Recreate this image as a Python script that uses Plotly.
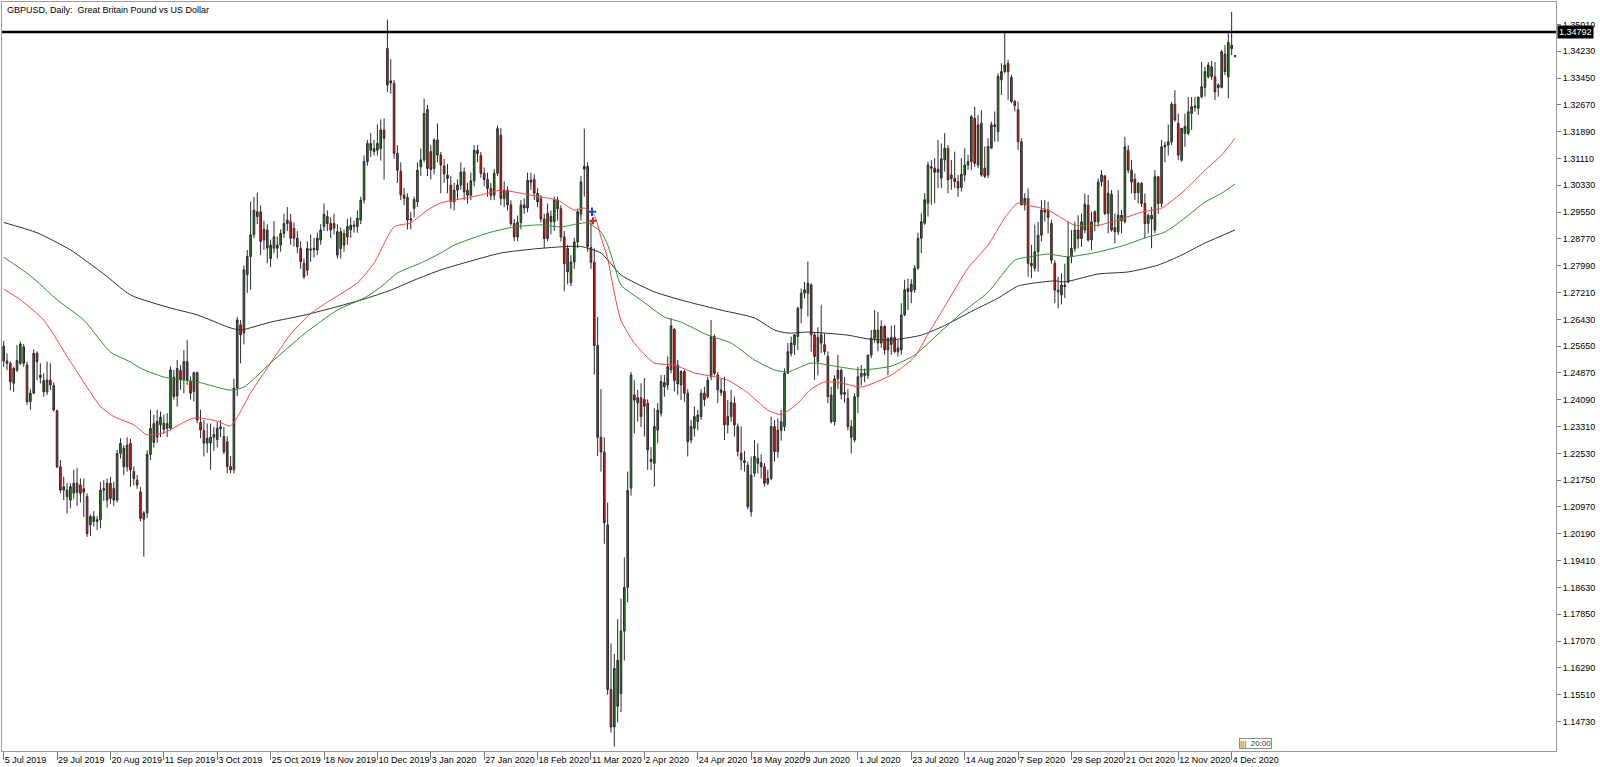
import plotly.graph_objects as go

# ---------------- data (GBPUSD daily, 5 Jul 2019 .. 7 Dec 2020) ----------------
opens = [
1.2565,1.2522,1.2515,1.2457,1.2495,1.2515,1.2563,1.2510,1.2403,1.2428,
1.2544,1.2481,1.2465,1.2432,1.2466,1.2450,1.2377,1.2214,1.2146,1.2146,
1.2117,1.2137,1.2166,1.2161,1.2140,1.2127,1.2045,1.2069,1.2055,1.2060,
1.2146,1.2117,1.2166,1.2151,1.2117,1.2253,1.2268,1.2214,1.2282,1.2200,
1.2175,1.2141,1.2061,1.2080,1.2250,1.2340,1.2300,1.2336,1.2341,1.2326,
1.2326,1.2475,1.2420,1.2494,1.2467,1.2520,1.2462,1.2433,1.2488,1.2343,
1.2319,1.2283,1.2283,1.2300,1.2293,1.2330,1.2302,1.2287,1.2215,1.2205,
1.2443,1.2627,1.2603,1.2773,1.2826,1.2889,1.2942,1.2956,1.2905,1.2903,
1.2820,1.2850,1.2859,1.2859,1.2893,1.2922,1.2927,1.2908,1.2879,1.2849,
1.2806,1.2786,1.2848,1.2845,1.2845,1.2874,1.2913,1.2942,1.2922,1.2908,
1.2898,1.2849,1.2893,1.2883,1.2903,1.2913,1.2913,1.2932,1.2990,1.3102,
1.3135,1.3140,1.3135,1.3140,1.3194,1.3431,1.3337,1.3330,1.3126,1.3074,
1.3005,1.2998,1.2932,1.2966,1.2985,1.3087,1.3107,1.3254,1.3131,1.3082,
1.3165,1.3121,1.3089,1.3063,1.3034,1.2985,1.3019,1.3034,1.3072,1.3019,
1.3004,1.3046,1.3135,1.3120,1.3068,1.3050,1.3024,1.3004,1.3068,1.3179,
1.2995,1.3019,1.2976,1.2922,1.2883,1.2925,1.2976,1.2967,1.3048,1.3050,
1.3010,1.2995,1.2935,1.2878,1.2943,1.2927,1.2990,1.2965,1.2883,1.2849,
1.2750,1.2810,1.2868,1.2949,1.3080,1.3088,1.2852,1.2809,1.2567,1.2300,
1.2257,1.2045,1.1566,1.1457,1.1651,1.1554,1.1736,1.1863,1.2152,1.2423,
1.2400,1.2415,1.2410,1.2399,1.2236,1.2224,1.2321,1.2370,1.2447,1.2452,
1.2496,1.2614,1.2510,1.2452,1.2491,1.2428,1.2292,1.2326,1.2345,1.2360,
1.2428,1.2418,1.2476,1.2593,1.2481,1.2438,1.2433,1.2336,1.2360,1.2399,
1.2331,1.2253,1.2232,1.2219,1.2083,1.2195,1.2224,1.2226,1.2214,1.2166,
1.2180,1.2331,1.2258,1.2320,1.2331,1.2486,1.2544,1.2569,1.2593,1.2675,
1.2719,1.2719,1.2743,1.2598,1.2520,1.2598,1.2569,1.2535,1.2423,1.2345,
1.2470,1.2495,1.2425,1.2413,1.2331,1.2292,1.2418,1.2476,1.2486,1.2480,
1.2539,1.2588,1.2612,1.2574,1.2622,1.2554,1.2570,1.2590,1.2560,1.2554,
1.2656,1.2733,1.2724,1.2729,1.2792,1.2879,1.2923,1.2981,1.3087,1.3083,
1.3071,1.3054,1.3107,1.3141,1.3063,1.3053,1.3044,1.3027,1.3063,1.3092,
1.3102,1.3228,1.3092,1.3214,1.3083,1.3063,1.3141,1.3209,1.3189,1.3340,
1.3364,1.3388,1.3347,1.3277,1.3253,1.3160,1.2976,1.2995,1.2806,1.2792,
1.2840,1.2888,1.2961,1.2960,1.2922,1.2806,1.2728,1.2714,1.2743,1.2752,
1.2825,1.2849,1.2903,1.2878,1.2903,1.2975,1.2874,1.2956,1.2927,1.3043,
1.3060,1.2951,1.3007,1.2910,1.2898,1.2930,1.2927,1.3135,1.3077,1.3051,
1.3011,1.3039,1.2980,1.2922,1.2946,1.2903,1.3058,1.2980,1.3145,1.3150,
1.3160,1.3269,1.3213,1.3106,1.3184,1.3184,1.3242,1.3264,1.3257,1.3291,
1.3318,1.3349,1.3378,1.3349,1.3325,1.3318,1.3415,1.3349,1.3441,1.3410]

highs = [
1.2580,1.2544,1.2520,1.2505,1.2568,1.2578,1.2572,1.2520,1.2440,1.2556,
1.2550,1.2515,1.2486,1.2520,1.2515,1.2460,1.2380,1.2234,1.2185,1.2166,
1.2166,1.2205,1.2210,1.2180,1.2180,1.2137,1.2075,1.2085,1.2070,1.2170,
1.2175,1.2180,1.2185,1.2170,1.2263,1.2297,1.2277,1.2300,1.2295,1.2215,
1.2190,1.2155,1.2085,1.2262,1.2380,1.2365,1.2380,1.2375,1.2365,1.2370,
1.2506,1.2496,1.2525,1.2510,1.2554,1.2582,1.2477,1.2491,1.2491,1.2380,
1.2350,1.2340,1.2340,1.2330,1.2345,1.2350,1.2330,1.2302,1.2245,1.2470,
1.2650,1.2641,1.2800,1.2845,1.2986,1.3000,1.3012,1.2975,1.2930,1.2920,
1.2875,1.2930,1.2885,1.2905,1.2950,1.2970,1.2950,1.2925,1.2900,1.2870,
1.2820,1.2870,1.2890,1.2880,1.2895,1.2920,1.2980,1.2960,1.2940,1.2950,
1.2920,1.2910,1.2905,1.2935,1.2940,1.2930,1.2960,1.3000,1.3120,1.3165,
1.3185,1.3165,1.3210,1.3225,1.3228,1.3515,1.3400,1.3340,1.3150,1.3100,
1.3025,1.3010,1.2955,1.3000,1.3100,1.3140,1.3285,1.3267,1.3150,1.3170,
1.3213,1.3130,1.3110,1.3095,1.3060,1.3040,1.3050,1.3100,1.3085,1.3040,
1.3070,1.3150,1.3150,1.3130,1.3085,1.3070,1.3040,1.3080,1.3207,1.3200,
1.3045,1.3030,1.2990,1.2935,1.2945,1.2990,1.2995,1.3070,1.3070,1.3065,
1.3025,1.3005,1.2950,1.2980,1.2960,1.3000,1.3000,1.2975,1.2900,1.2860,
1.2830,1.2880,1.2965,1.3060,1.3198,1.3100,1.2930,1.2850,1.2650,1.2440,
1.2300,1.2110,1.1700,1.1670,1.1770,1.1830,1.1950,1.2200,1.2490,1.2466,
1.2438,1.2457,1.2472,1.2410,1.2272,1.2384,1.2399,1.2481,1.2481,1.2535,
1.2646,1.2617,1.2525,1.2495,1.2496,1.2440,1.2350,1.2389,1.2380,1.2440,
1.2447,1.2476,1.2641,1.2600,1.2490,1.2470,1.2476,1.2408,1.2438,1.2418,
1.2340,1.2331,1.2260,1.2229,1.2244,1.2292,1.2282,1.2250,1.2225,1.2205,
1.2360,1.2350,1.2355,1.2380,1.2500,1.2574,1.2593,1.2600,1.2680,1.2733,
1.2752,1.2811,1.2748,1.2605,1.2620,1.2685,1.2602,1.2550,1.2447,1.2480,
1.2540,1.2500,1.2475,1.2440,1.2350,1.2428,1.2505,1.2510,1.2500,1.2540,
1.2612,1.2670,1.2665,1.2640,1.2627,1.2590,1.2625,1.2627,1.2583,1.2690,
1.2758,1.2762,1.2760,1.2801,1.2895,1.2952,1.3010,1.3102,1.3107,1.3112,
1.3165,1.3155,1.3185,1.3150,1.3107,1.3131,1.3063,1.3112,1.3141,1.3122,
1.3238,1.3262,1.3238,1.3252,1.3146,1.3170,1.3218,1.3248,1.3359,1.3388,
1.3482,1.3398,1.3355,1.3282,1.3277,1.3170,1.3010,1.3024,1.2860,1.2918,
1.2927,1.2990,1.2990,1.2985,1.2933,1.2815,1.2767,1.2777,1.2805,1.2927,
1.2903,1.2927,1.2946,1.2951,1.3009,1.3005,1.2956,1.2960,1.3053,1.3077,
1.3063,1.3048,1.3019,1.2951,1.3019,1.2961,1.3174,1.3150,1.3106,1.3068,
1.3043,1.3043,1.3009,1.2951,1.2970,1.3077,1.3060,1.3165,1.3160,1.3210,
1.3276,1.3310,1.3242,1.3199,1.3242,1.3290,1.3290,1.3290,1.3290,1.3392,
1.3378,1.3392,1.3395,1.3392,1.3330,1.3427,1.3441,1.3475,1.3538,1.3412]

lows = [
1.2505,1.2495,1.2437,1.2432,1.2490,1.2510,1.2505,1.2394,1.2380,1.2425,
1.2466,1.2457,1.2418,1.2423,1.2437,1.2375,1.2210,1.2137,1.2117,1.2078,
1.2093,1.2120,1.2100,1.2110,1.2068,1.2010,1.2012,1.2040,1.2030,1.2035,
1.2115,1.2095,1.2105,1.2100,1.2110,1.2238,1.2190,1.2200,1.2156,1.2160,
1.2150,1.2055,1.1952,1.2065,1.2234,1.2270,1.2283,1.2300,1.2310,1.2300,
1.2320,1.2409,1.2389,1.2438,1.2428,1.2452,1.2409,1.2404,1.2341,1.2297,
1.2244,1.2254,1.2205,1.2260,1.2270,1.2300,1.2250,1.2195,1.2195,1.2195,
1.2420,1.2515,1.2570,1.2720,1.2729,1.2879,1.2920,1.2830,1.2845,1.2806,
1.2795,1.2835,1.2820,1.2840,1.2880,1.2900,1.2860,1.2855,1.2835,1.2790,
1.2760,1.2770,1.2810,1.2823,1.2830,1.2860,1.2900,1.2900,1.2880,1.2890,
1.2820,1.2820,1.2840,1.2860,1.2880,1.2895,1.2895,1.2920,1.2980,1.3090,
1.3115,1.3120,1.3120,1.3105,1.3050,1.3305,1.3300,1.3110,1.3040,1.2990,
1.2975,1.2905,1.2905,1.2940,1.2970,1.3060,1.3100,1.3060,1.3050,1.3065,
1.3100,1.3010,1.3040,1.3010,1.2965,1.2960,1.2990,1.3020,1.2990,1.2980,
1.2990,1.3030,1.3100,1.3055,1.3030,1.3000,1.2990,1.2990,1.3060,1.2975,
1.2970,1.2960,1.2915,1.2870,1.2870,1.2905,1.2950,1.2955,1.3020,1.2990,
1.2970,1.2925,1.2850,1.2870,1.2890,1.2900,1.2930,1.2870,1.2725,1.2745,
1.2740,1.2790,1.2850,1.2930,1.3000,1.2840,1.2790,1.2482,1.2245,1.2200,
1.1990,1.1550,1.1440,1.1400,1.1470,1.1500,1.1650,1.1820,1.2130,1.2311,
1.2345,1.2330,1.2302,1.2205,1.2205,1.2156,1.2282,1.2360,1.2418,1.2438,
1.2486,1.2433,1.2423,1.2408,1.2403,1.2244,1.2282,1.2302,1.2320,1.2350,
1.2390,1.2413,1.2466,1.2480,1.2399,1.2420,1.2292,1.2311,1.2345,1.2302,
1.2244,1.2205,1.2200,1.2090,1.2069,1.2185,1.2195,1.2180,1.2156,1.2161,
1.2175,1.2229,1.2240,1.2290,1.2318,1.2486,1.2535,1.2540,1.2554,1.2632,
1.2704,1.2651,1.2549,1.2467,1.2480,1.2545,1.2540,1.2399,1.2340,1.2333,
1.2440,1.2410,1.2400,1.2320,1.2253,1.2285,1.2370,1.2450,1.2460,1.2470,
1.2530,1.2575,1.2550,1.2560,1.2540,1.2481,1.2540,1.2545,1.2535,1.2540,
1.2652,1.2670,1.2690,1.2720,1.2787,1.2835,1.2918,1.2942,1.2976,1.2981,
1.3025,1.3025,1.3073,1.3010,1.3020,1.3025,1.3000,1.3015,1.3044,1.3078,
1.3078,1.3087,1.3083,1.3058,1.3054,1.3054,1.3141,1.3160,1.3160,1.3296,
1.3359,1.3282,1.3272,1.3248,1.3136,1.2976,1.2960,1.2767,1.2763,1.2782,
1.2782,1.2870,1.2928,1.2893,1.2805,1.2690,1.2675,1.2687,1.2705,1.2748,
1.2806,1.2840,1.2849,1.2854,1.2893,1.2869,1.2845,1.2900,1.2912,1.3029,
1.2946,1.2893,1.2898,1.2864,1.2888,1.2893,1.2922,1.3068,1.3010,1.2990,
1.2980,1.2970,1.2878,1.2893,1.2850,1.2893,1.2950,1.2970,1.3100,1.3120,
1.3150,1.3218,1.3106,1.3102,1.3145,1.3179,1.3194,1.3247,1.3238,1.3286,
1.3291,1.3344,1.3340,1.3281,1.3291,1.3315,1.3354,1.3286,1.3412,1.3405]

closes = [
1.2522,1.2515,1.2462,1.2500,1.2523,1.2571,1.2515,1.2403,1.2428,1.2544,
1.2520,1.2474,1.2432,1.2466,1.2452,1.2379,1.2214,1.2146,1.2156,1.2127,
1.2156,1.2166,1.2140,1.2137,1.2150,1.2020,1.2069,1.2055,1.2060,1.2146,
1.2150,1.2166,1.2122,1.2117,1.2253,1.2282,1.2214,1.2277,1.2205,1.2180,
1.2161,1.2064,1.2080,1.2250,1.2326,1.2285,1.2346,1.2358,1.2323,1.2340,
1.2496,1.2418,1.2500,1.2467,1.2520,1.2467,1.2428,1.2488,1.2350,1.2321,
1.2283,1.2297,1.2300,1.2308,1.2326,1.2325,1.2258,1.2215,1.2205,1.2443,
1.2641,1.2598,1.2787,1.2826,1.2889,1.2961,1.2956,1.2870,1.2874,1.2850,
1.2859,1.2883,1.2850,1.2893,1.2922,1.2932,1.2879,1.2879,1.2854,1.2811,
1.2767,1.2849,1.2845,1.2850,1.2879,1.2903,1.2949,1.2922,1.2903,1.2922,
1.2830,1.2898,1.2859,1.2913,1.2917,1.2917,1.2937,1.2990,1.3102,1.3155,
1.3155,1.3131,1.3155,1.3194,1.3170,1.3325,1.3331,1.3126,1.3077,1.3005,
1.2995,1.2932,1.2935,1.2992,1.3077,1.3107,1.3242,1.3082,1.3079,1.3165,
1.3121,1.3092,1.3066,1.3053,1.2986,1.3019,1.3034,1.3072,1.3014,1.3004,
1.3046,1.3135,1.3125,1.3068,1.3050,1.3024,1.3004,1.3068,1.3198,1.2995,
1.3019,1.2976,1.2922,1.2883,1.2925,1.2976,1.2967,1.3048,1.3042,1.3010,
1.2985,1.2935,1.2878,1.2951,1.2927,1.2990,1.2965,1.2883,1.2805,1.2781,
1.2810,1.2868,1.2956,1.3043,1.3088,1.2855,1.2809,1.2567,1.2300,1.2257,
1.2051,1.1566,1.1457,1.1627,1.1517,1.1736,1.1863,1.2145,1.2481,1.2408,
1.2415,1.2360,1.2390,1.2263,1.2229,1.2331,1.2379,1.2462,1.2459,1.2505,
1.2624,1.2465,1.2455,1.2491,1.2428,1.2287,1.2331,1.2360,1.2365,1.2428,
1.2410,1.2466,1.2593,1.2486,1.2438,1.2430,1.2336,1.2360,1.2401,1.2336,
1.2258,1.2234,1.2226,1.2098,1.2190,1.2244,1.2239,1.2214,1.2166,1.2180,
1.2331,1.2258,1.2320,1.2345,1.2486,1.2549,1.2574,1.2598,1.2675,1.2719,
1.2729,1.2748,1.2598,1.2535,1.2590,1.2574,1.2549,1.2418,1.2345,1.2470,
1.2495,1.2425,1.2430,1.2331,1.2300,1.2418,1.2476,1.2486,1.2480,1.2539,
1.2588,1.2612,1.2574,1.2622,1.2554,1.2588,1.2590,1.2549,1.2549,1.2656,
1.2729,1.2724,1.2745,1.2792,1.2879,1.2927,1.2991,1.3092,1.3083,1.3071,
1.3080,1.3110,1.3141,1.3049,1.3053,1.3044,1.3025,1.3065,1.3092,1.3102,
1.3233,1.3097,1.3209,1.3063,1.3059,1.3146,1.3209,1.3204,1.3350,1.3364,
1.3383,1.3364,1.3277,1.3265,1.3160,1.2976,1.2995,1.2806,1.2799,1.2840,
1.2888,1.2961,1.2955,1.2940,1.2815,1.2728,1.2723,1.2743,1.2738,1.2825,
1.2849,1.2903,1.2878,1.2927,1.2978,1.2874,1.2927,1.2927,1.3043,1.3063,
1.2951,1.3010,1.2903,1.2898,1.2946,1.2946,1.3145,1.3077,1.3043,1.3011,
1.3039,1.2980,1.2922,1.2946,1.2935,1.3058,1.2980,1.3145,1.3150,1.3160,
1.3269,1.3223,1.3121,1.3199,1.3204,1.3247,1.3262,1.3260,1.3290,1.3320,
1.3364,1.3383,1.3350,1.3305,1.3318,1.3422,1.3364,1.3449,1.3431,1.3409]

# moving averages (bar index, value)
ma_red_x = [0,5,12,20,29,33,39,43,48,57,64,68,74,80,86,92,98,106,111,117,122,127,131,135,143,149,155,161,166,171,174,177,179,181,183,185,189,195,201,207,212,217,223,229,233,238,242,246,251,257,266,273,277,281,289,295,300,304,308,313,317,321,328,334,341,347,354,360,365,369]
ma_red_y = [1.2731,1.2700,1.2641,1.2520,1.2390,1.2360,1.2336,1.2307,1.2313,1.2356,1.2347,1.2333,1.2429,1.2516,1.2600,1.2660,1.2699,1.2749,1.2807,1.2912,1.2924,1.2961,1.2982,1.2990,1.3005,1.3019,1.3010,1.2999,1.2990,1.2961,1.2967,1.2946,1.2882,1.2820,1.2720,1.2640,1.2574,1.2516,1.2510,1.2487,1.2478,1.2466,1.2429,1.2379,1.2366,1.2399,1.2440,1.2461,1.2458,1.2446,1.2481,1.2534,1.2600,1.2664,1.2792,1.2859,1.2938,1.2982,1.2973,1.2961,1.2938,1.2917,1.2917,1.2932,1.2955,1.2967,1.3019,1.3077,1.3121,1.3170]

ma_green_x = [0,8,16,24,32,38,41,48,58,68,72,80,90,100,108,113,118,125,131,135,145,153,161,167,175,179,181,183,185,191,198,203,211,218,225,231,235,242,249,257,266,273,280,287,295,303,308,313,319,328,336,342,348,354,360,365,369]
ma_green_y = [1.2824,1.2770,1.2700,1.2641,1.2548,1.2519,1.2501,1.2475,1.2461,1.2437,1.2446,1.2516,1.2600,1.2670,1.2705,1.2737,1.2778,1.2807,1.2836,1.2859,1.2894,1.2912,1.2918,1.2912,1.2924,1.2897,1.2860,1.2800,1.2743,1.2699,1.2650,1.2635,1.2597,1.2574,1.2525,1.2496,1.2490,1.2516,1.2507,1.2496,1.2507,1.2539,1.2600,1.2661,1.2722,1.2815,1.2826,1.2833,1.2825,1.2839,1.2859,1.2880,1.2897,1.2938,1.2984,1.3010,1.3037]

ma_black_x = [0,10,20,30,38,50,58,68,71,80,90,100,108,116,123,131,139,149,159,167,173,179,182,185,195,205,215,225,231,235,241,253,259,266,275,282,289,298,304,309,315,318,328,337,346,353,360,369]
ma_black_y = [1.2925,1.2895,1.2845,1.2775,1.2714,1.2676,1.2656,1.2618,1.2612,1.2635,1.2655,1.2680,1.2702,1.2728,1.2757,1.2787,1.2810,1.2836,1.2848,1.2854,1.2855,1.2836,1.2805,1.2772,1.2723,1.2694,1.2670,1.2647,1.2612,1.2603,1.2606,1.2597,1.2586,1.2583,1.2597,1.2625,1.2661,1.2705,1.2740,1.2749,1.2755,1.2752,1.2775,1.2781,1.2801,1.2830,1.2865,1.2903]

x_tick_pos = [0,16,32,48,64,80,96,112,128,144,160,176,192,208,224,240,256,272,288,304,320,336,352,368]
x_tick_text = ["5 Jul 2019","29 Jul 2019","20 Aug 2019","11 Sep 2019","3 Oct 2019","25 Oct 2019",
               "18 Nov 2019","10 Dec 2019","3 Jan 2020","27 Jan 2020","18 Feb 2020","11 Mar 2020",
               "2 Apr 2020","24 Apr 2020","18 May 2020","9 Jun 2020","1 Jul 2020","23 Jul 2020",
               "14 Aug 2020","7 Sep 2020","29 Sep 2020","21 Oct 2020","12 Nov 2020","4 Dec 2020"]
y_tick_vals = [1.14730,1.15510,1.16290,1.17070,1.17850,1.18630,1.19410,1.20190,1.20970,1.21750,
               1.22530,1.23310,1.24090,1.24870,1.25650,1.26430,1.27210,1.27990,1.28770,1.29550,
               1.30330,1.31110,1.31890,1.32670,1.33450,1.34230,1.35010]
hline_price = 1.34792
title_text = "GBPUSD, Daily:  Great Britain Pound vs US Dollar"
trade_marks_x = [176.3, 176.6]
trade_marks_y = [1.2956, 1.2930]
clock_text = "20:00"

# ---------------- figure ----------------
n = len(closes)
xs = list(range(n))
highs = [max(h, o, c) for h, o, c in zip(highs, opens, closes)]
lows = [min(l, o, c) for l, o, c in zip(lows, opens, closes)]

FONT = "Liberation Sans, Arial, sans-serif"

fig = go.Figure()
fig.add_trace(go.Candlestick(
    x=xs, open=opens, high=highs, low=lows, close=closes,
    increasing=dict(line=dict(color="#2b2b2b", width=1), fillcolor="#1f8a1f"),
    decreasing=dict(line=dict(color="#2b2b2b", width=1), fillcolor="#ff1010"),
    whiskerwidth=0, showlegend=False, hoverinfo="skip"))

for mx, my, col in [(ma_black_x, ma_black_y, "#303030"),
                    (ma_green_x, ma_green_y, "#2f8f2f"),
                    (ma_red_x, ma_red_y, "#ff4040")]:
    fig.add_trace(go.Scatter(x=mx, y=my, mode="lines",
                             line=dict(color=col, width=1, shape="spline", smoothing=0.6),
                             showlegend=False, hoverinfo="skip"))

fig.add_trace(go.Scatter(x=trade_marks_x[:1], y=trade_marks_y[:1], mode="markers",
                         marker=dict(symbol="cross-thin", size=6, line=dict(color="#1050d0", width=2)),
                         showlegend=False, hoverinfo="skip"))
fig.add_trace(go.Scatter(x=trade_marks_x[1:], y=trade_marks_y[1:], mode="markers",
                         marker=dict(symbol="cross-thin", size=5, line=dict(color="#e02020", width=2)),
                         showlegend=False, hoverinfo="skip"))

fig.add_shape(type="line", xref="paper", x0=0, x1=1, yref="y", y0=hline_price, y1=hline_price,
              line=dict(color="black", width=2.5))

fig.add_annotation(xref="paper", x=1, yref="y", y=hline_price, xanchor="left", yanchor="middle",
                   xshift=1, text=f"{hline_price:.5f}", showarrow=False, bgcolor="black",
                   font=dict(family=FONT, size=9, color="white"), borderpad=1)

fig.add_annotation(xref="paper", x=0, yref="paper", y=1, xanchor="left", yanchor="top",
                   xshift=3, yshift=-1, text=title_text, showarrow=False,
                   font=dict(family=FONT, size=9, color="black"))

# small bar-clock box near the bottom, right of the last bar
fig.add_annotation(xref="x", x=370.3, yref="paper", y=0, xanchor="left", yanchor="bottom",
                   yshift=2, text="|||  " + clock_text, showarrow=False, bgcolor="white",
                   bordercolor="#8a8a8a", borderwidth=1, borderpad=0,
                   font=dict(family=FONT, size=8, color="#333"))

fig.update_layout(
    width=1600, height=767,
    margin=dict(l=2, r=44, t=2, b=16),
    paper_bgcolor="white", plot_bgcolor="white",
    font=dict(family=FONT, size=9, color="black"),
    xaxis=dict(range=[-0.5, 465.2], showgrid=False, zeroline=False,
               tickmode="array", tickvals=x_tick_pos, ticktext=x_tick_text,
               ticks="outside", ticklen=8, tickcolor="#777", tickwidth=1,
               ticklabelposition="outside right", tickangle=0,
               showline=True, linecolor="#9a9a9a", mirror=True,
               rangeslider=dict(visible=False), tickfont=dict(size=9)),
    yaxis=dict(range=[1.13869, 1.35665], side="right", showgrid=False, zeroline=False,
               tickmode="array", tickvals=y_tick_vals,
               ticktext=[f"{v:.5f}" for v in y_tick_vals],
               ticks="outside", ticklen=4, tickcolor="#777",
               showline=True, linecolor="#9a9a9a", mirror=True, tickfont=dict(size=9)),
)

fig.write_html("out.html", config={"displayModeBar": False},
               post_script="document.body.style.margin='0';document.body.style.overflow='hidden';")
